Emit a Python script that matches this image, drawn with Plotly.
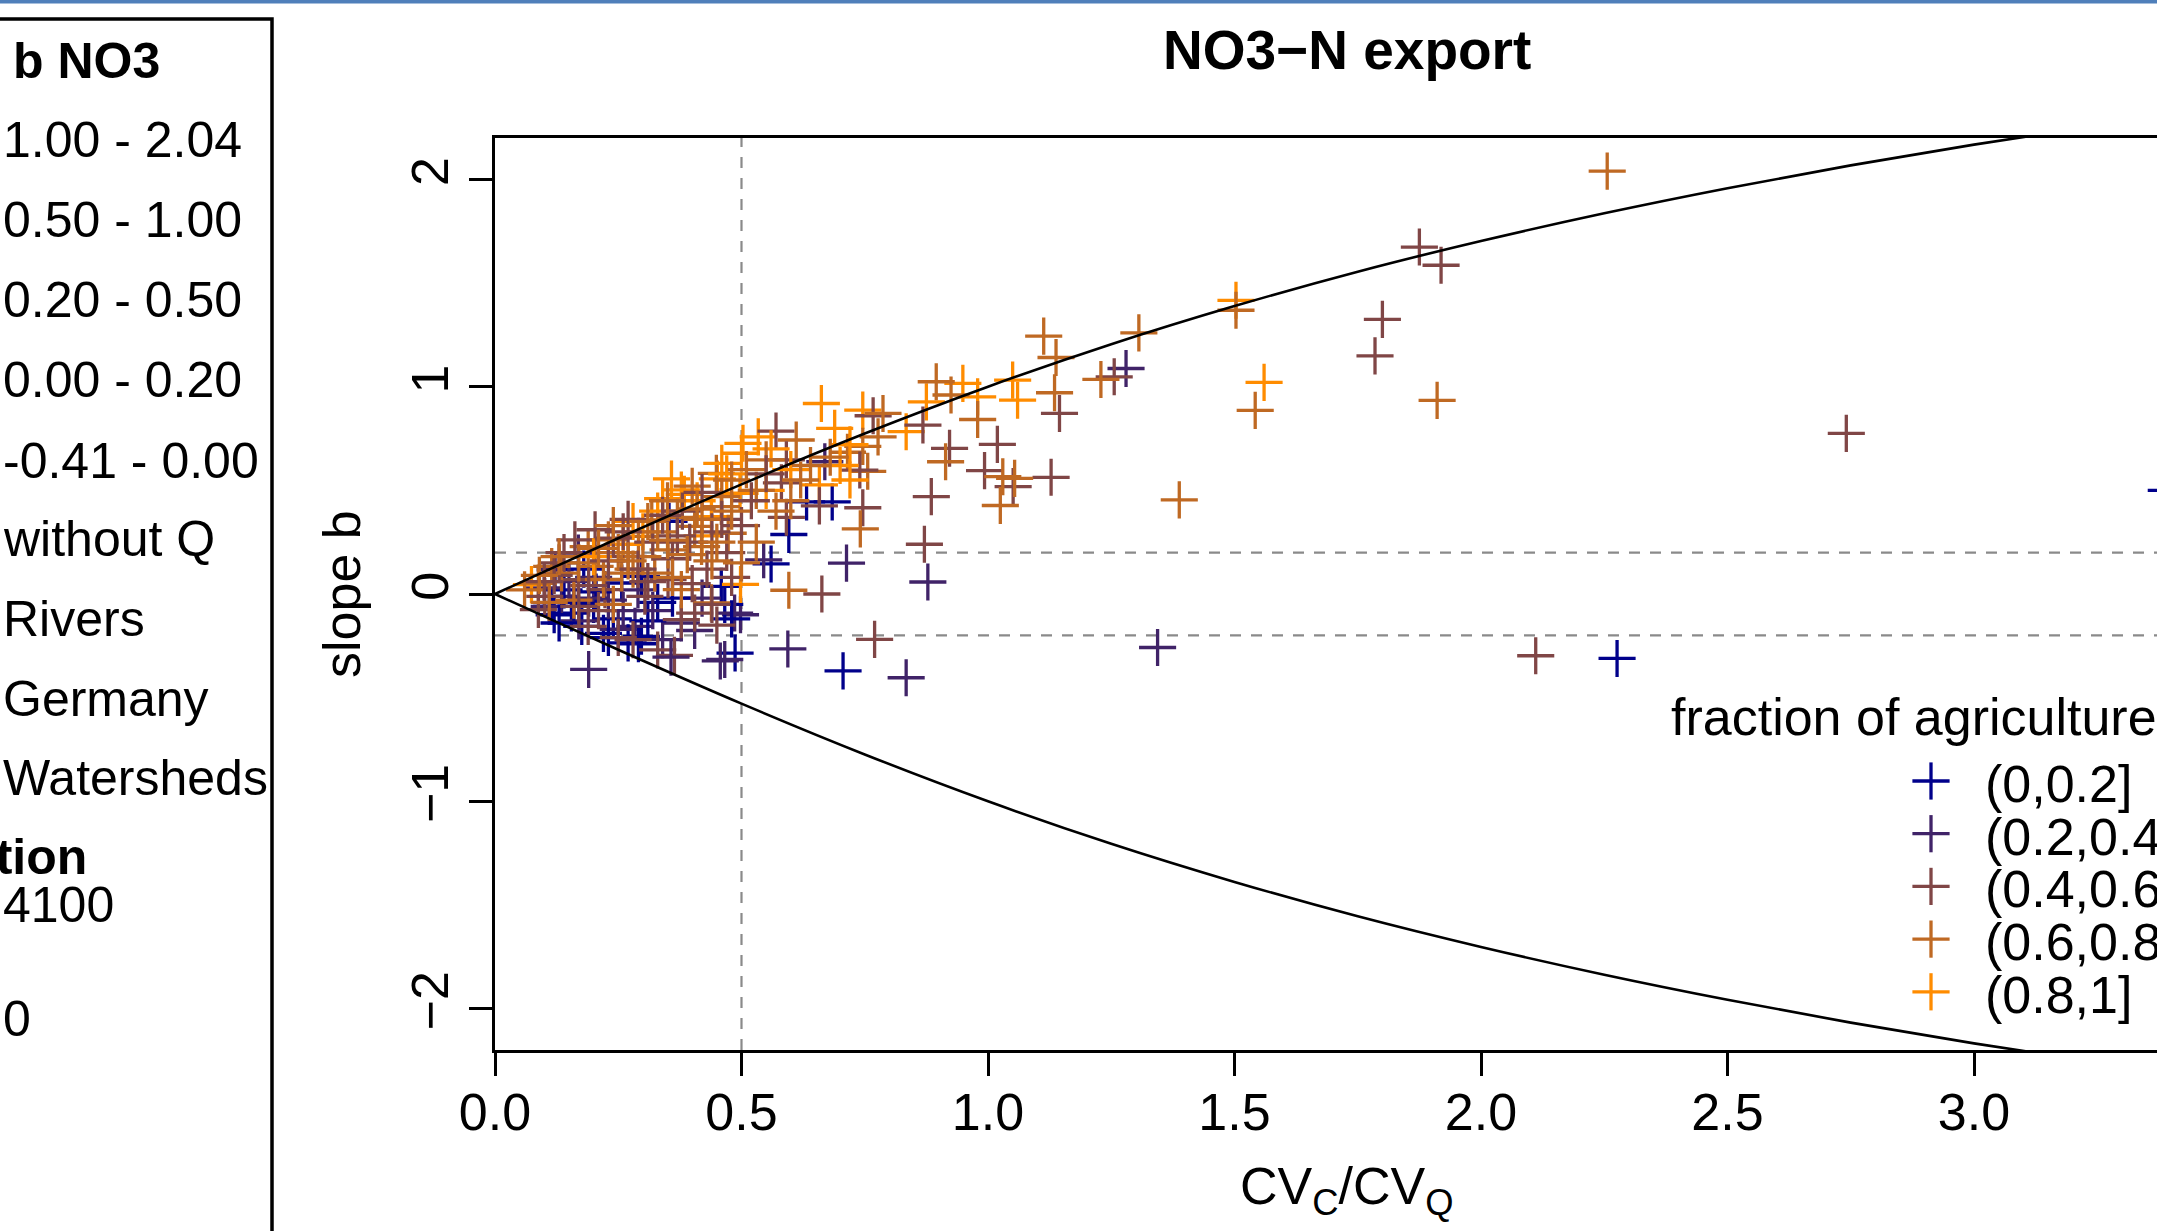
import plotly.graph_objects as go

# ---------------- data ----------------
CATEGORIES = ["(0,0.2]", "(0.2,0.4]", "(0.4,0.6]", "(0.6,0.8]", "(0.8,1]"]
COLORS = ["#00008B", "#402368", "#804646", "#BF6923", "#FF8C00"]

A_X = [0.353, 0.596, 0.632, 0.684, 0.560, 0.706, 2.276, 3.390, 0.487, 0.291,
       0.297, 0.466, 0.155, 0.176, 0.257, 0.297, 0.459, 0.115, 0.200, 0.240,
       0.140, 0.330, 0.270, 0.180, 0.120, 0.220, 0.310, 0.480, 0.205, 0.160,
       0.130, 0.230, 0.360]
A_Y = [0.351, 0.287, 0.444, 0.444, 0.145, -0.371, -0.311, 0.500, -0.285, -0.240,
       -0.204, -0.050, -0.092, -0.156, 0.053, 0.085, 0.037, -0.060, -0.050, -0.120,
       0.020, -0.040, -0.236, 0.120, -0.100, -0.190, -0.130, -0.120, 0.010, -0.040,
       -0.140, -0.210, -0.020]

B_X = [1.280, 1.344, 0.834, 0.594, 0.190, 0.878, 0.669, 0.713, 0.498, 0.457,
       0.405, 0.466, 0.378, 0.486, 0.169, 0.122, 0.135, 0.284, 0.545, 0.230,
       0.100, 0.260, 0.340, 0.170, 0.420, 0.200, 0.290, 0.150, 0.357, 0.110,
       0.250, 0.320, 0.190]
B_Y = [1.088, -0.258, -0.404, -0.265, -0.364, 0.058, 0.638, 0.149, -0.100, -0.323,
       -0.176, -0.316, -0.140, -0.092, 0.197, 0.117, -0.011, -0.156, 0.165, -0.030,
       0.030, -0.080, -0.220, -0.130, -0.020, 0.080, 0.020, 0.060, -0.305, -0.060,
       -0.170, -0.080, -0.020]

C_X = [2.741, 2.111, 1.875, 1.919, 1.800, 1.785, 1.145, 1.256, 1.128, 1.051,
       1.019, 0.993, 0.922, 0.868, 0.885, 0.871, 0.770, 0.767, 0.570, 0.591,
       0.581, 0.591, 0.658, 0.746, 0.663, 0.740, 0.364, 0.330, 0.169, 0.223,
       0.270, 0.203, 0.162, 0.304, 0.351, 0.378, 0.405, 0.101, 0.088, 0.189,
       0.250, 0.130, 0.320, 0.380, 0.440, 0.430, 0.470, 0.500, 0.270, 0.360,
       0.420, 0.550, 0.520, 0.210, 0.450, 0.280, 0.120, 0.240, 0.395, 0.290,
       0.480, 0.140, 0.190, 0.260, 0.310, 0.340, 0.400, 0.460, 0.230, 0.100,
       0.370, 0.440, 0.170]
C_Y = [0.775, -0.298, 1.674, 1.586, 1.325, 1.149, 0.871, 1.048, 0.563, 0.518,
       0.722, 0.595, 0.703, 0.815, 0.470, 0.240, -0.219, 0.860, 0.786, 0.647,
       0.536, 0.370, 0.425, 0.416, 0.000, 0.598, -0.296, -0.270, 0.069, 0.021,
       0.181, 0.310, 0.261, -0.011, 0.069, -0.124, -0.092, -0.011, -0.075, -0.156,
       -0.210, 0.150, 0.250, 0.400, 0.300, 0.120, 0.200, 0.330, 0.360, 0.170,
       0.490, 0.580, 0.450, -0.080, -0.150, -0.220, 0.090, 0.270, 0.250, 0.120,
       0.080, 0.200, 0.040, 0.300, 0.060, 0.380, 0.050, 0.360, 0.160, 0.060,
       0.280, -0.050, -0.060]

D_X = [2.256, 1.503, 1.542, 1.911, 1.388, 1.306, 1.113, 1.138, 1.135, 1.229,
       0.979, 0.895, 0.925, 0.914, 1.030, 1.054, 1.025, 0.787, 0.611, 0.777,
       0.746, 0.756, 0.715, 0.741, 0.596, 0.550, 0.449, 0.318, 0.291, 0.230,
       0.189, 0.257, 0.203, 0.135, 0.088, 0.115, 0.351, 0.405, 0.459, 0.473,
       0.419, 0.324, 0.378, 0.439, 0.460, 0.400, 0.480, 0.510, 0.530, 0.570,
       0.620, 0.640, 0.250, 0.300, 0.170, 0.060, 0.110, 0.220, 0.280, 0.330,
       0.370, 0.410, 0.160, 0.240, 0.530, 0.600, 0.680, 0.350, 0.440, 0.500,
       0.130, 0.210, 0.270, 0.350, 0.390, 0.450, 0.310, 0.420, 0.480, 0.240,
       0.090, 0.360]
D_Y = [2.040, 1.369, 0.886, 0.934, 0.454, 1.260, 1.244, 1.141, 0.971, 1.035,
       0.842, 1.024, 0.960, 0.638, 0.566, 0.558, 0.427, 0.871, 0.743, 0.758,
       0.712, 0.592, 0.684, 0.314, 0.018, 0.647, 0.582, 0.358, 0.278, 0.261,
       0.229, 0.101, 0.133, 0.101, 0.053, 0.133, 0.213, 0.326, 0.422, 0.293,
       0.229, 0.101, 0.021, -0.043, 0.470, 0.520, 0.550, 0.600, 0.500, 0.400,
       0.550, 0.620, 0.200, 0.180, 0.150, 0.020, -0.040, 0.070, 0.120, 0.300,
       0.370, 0.410, -0.030, -0.050, 0.250, 0.450, 0.660, 0.450, 0.160, 0.150,
       0.180, 0.220, 0.160, 0.260, 0.190, 0.250, 0.350, 0.360, 0.400, 0.330,
       0.090, 0.080]

E_X = [1.503, 1.560, 1.050, 1.060, 0.949, 0.979, 0.875, 0.834, 0.662, 0.503,
       0.689, 0.746, 0.658, 0.534, 0.451, 0.358, 0.384, 0.498, 0.500, 0.378,
       0.497, 0.074, 0.439, 0.600, 0.560, 0.720, 0.460, 0.410, 0.300, 0.260,
       0.550, 0.700, 0.200, 0.330, 0.420, 0.720, 0.340, 0.470, 0.280]
E_Y = [1.417, 1.021, 1.032, 0.935, 1.016, 0.951, 0.927, 0.783, 0.919, 0.727,
       0.799, 0.887, 0.526, 0.758, 0.555, 0.555, 0.481, 0.046, 0.679, 0.502,
       0.486, 0.045, 0.373, 0.600, 0.700, 0.720, 0.630, 0.450, 0.300, 0.240,
       0.500, 0.620, 0.180, 0.400, 0.280, 0.550, 0.460, 0.580, 0.350]

# theoretical envelope (upper bound of slope b)
CURVE_X = [0.0, 0.1, 0.25, 0.5, 0.75, 1.0, 1.25, 1.5, 1.75, 2.0, 2.25, 2.5, 2.75, 3.0, 3.25, 3.5]
CURVE_B = [0.0, 0.108, 0.269, 0.529, 0.774, 1.0, 1.205, 1.389, 1.555, 1.703, 1.837, 1.958, 2.068, 2.168, 2.259, 2.343]

X_TICKS = [0.0, 0.5, 1.0, 1.5, 2.0, 2.5, 3.0]
X_TICK_TEXT = ["0.0", "0.5", "1.0", "1.5", "2.0", "2.5", "3.0"]
Y_TICKS = [-2, -1, 0, 1, 2]
H_THRESH = [0.2, -0.2]
V_THRESH = 0.5

MAP_LEGEND = ["1.00 - 2.04", "0.50 - 1.00", "0.20 - 0.50", "0.00 - 0.20", "-0.41 - 0.00",
              "without Q", "Rivers", "Germany", "Watersheds"]

# ---------------- layout geometry (pixels) ----------------
VIEW_W, VIEW_H = 2157, 1231          # visible window (the chart runs past its right edge)
FIG_W, FIG_H = 2199, 1231
L, T, B = 495, 138, 1050
R = FIG_W
W, H = R - L, B - T
PX_PER_X = 493.0
FONT = "Liberation Sans, Arial, Helvetica, sans-serif"


def px(x):
    return (x - L) / W


def py(y):
    return (B - y) / H


fig = go.Figure()

# interleave the groups (as points of an unsorted data table would be drawn)
groups = [(A_X, A_Y, 0), (B_X, B_Y, 1), (C_X, C_Y, 2), (D_X, D_Y, 3), (E_X, E_Y, 4)]
all_x, all_y, all_c, all_n = [], [], [], []
longest = max(len(g[0]) for g in groups)
for i in range(longest):
    for xs, ys, ci in groups:
        if i < len(xs):
            all_x.append(xs[i])
            all_y.append(ys[i])
            all_c.append(COLORS[ci])
            all_n.append(CATEGORIES[ci])

fig.add_trace(go.Scatter(
    x=all_x, y=all_y, mode="markers", cliponaxis=True, customdata=all_n,
    marker=dict(symbol="cross-thin", size=26.5, color=all_c,
                line=dict(color=all_c, width=3.3)),
    hovertemplate="%{x}, %{y}<br>%{customdata}<extra></extra>"))

fig.add_trace(go.Scatter(x=CURVE_X, y=CURVE_B, mode="lines",
                         line=dict(color="black", width=2.6, shape="spline"), hoverinfo="skip"))
fig.add_trace(go.Scatter(x=CURVE_X, y=[-v for v in CURVE_B], mode="lines",
                         line=dict(color="black", width=2.6, shape="spline"), hoverinfo="skip"))

shapes = []
# threshold dashed lines
for h in H_THRESH:
    shapes.append(dict(type="line", xref="paper", yref="y", x0=0, x1=1, y0=h, y1=h,
                       line=dict(color="#8A8A8A", width=2.2, dash="11px,10px"), layer="below"))
shapes.append(dict(type="line", xref="x", yref="paper", x0=V_THRESH, x1=V_THRESH, y0=0, y1=1,
                   line=dict(color="#8A8A8A", width=2.2, dash="11px,10px"), layer="below"))
# top blue bar of the page
shapes.append(dict(type="rect", xref="paper", yref="paper", x0=px(0), x1=px(FIG_W),
                   y0=py(3.5), y1=py(0), line=dict(width=0), fillcolor="#4F7FBA"))
# left panel box
shapes.append(dict(type="rect", xref="paper", yref="paper", x0=px(-10), x1=px(272),
                   y0=py(FIG_H + 20), y1=py(19), line=dict(color="black", width=3.5)))

annotations = []
# title
annotations.append(dict(text="<b>NO3\u2212N export</b>", xref="paper", yref="paper",
                        x=0.5, y=py(50), xanchor="center", yanchor="middle",
                        showarrow=False, font=dict(family=FONT, size=55, color="black")))
# axis titles
annotations.append(dict(text="CV<sub>C</sub>/CV<sub>Q</sub>", xref="paper", yref="paper",
                        x=0.5, y=py(1190), xanchor="center", yanchor="middle",
                        showarrow=False, font=dict(family=FONT, size=52, color="black")))
annotations.append(dict(text="slope b", xref="paper", yref="paper", textangle=-90,
                        x=px(342), y=py(594), xanchor="center", yanchor="middle",
                        showarrow=False, font=dict(family=FONT, size=52, color="black")))
# legend of the scatter
annotations.append(dict(text="fraction of agriculture", xref="paper", yref="paper",
                        x=px(1669), y=py(717), xanchor="left", yanchor="middle",
                        showarrow=False, font=dict(family=FONT, size=52, color="black")))
LEG_Y0, LEG_DY, LEG_MX, LEG_TX, ARM = 781, 52.7, 1931, 1983, 18.6
for i, lab in enumerate(CATEGORIES):
    yy = LEG_Y0 + i * LEG_DY
    annotations.append(dict(text=lab, xref="paper", yref="paper", x=px(LEG_TX), y=py(yy + 3),
                            xanchor="left", yanchor="middle", showarrow=False,
                            font=dict(family=FONT, size=52, color="black")))
    shapes.append(dict(type="line", xref="paper", yref="paper", x0=px(LEG_MX - ARM), x1=px(LEG_MX + ARM),
                       y0=py(yy), y1=py(yy), line=dict(color=COLORS[i], width=3.3)))
    shapes.append(dict(type="line", xref="paper", yref="paper", x0=px(LEG_MX), x1=px(LEG_MX),
                       y0=py(yy - ARM), y1=py(yy + ARM), line=dict(color=COLORS[i], width=3.3)))

# left map-legend panel (cropped)
annotations.append(dict(text="<b>b NO3</b>", xref="paper", yref="paper", x=px(11), y=py(61),
                        xanchor="left", yanchor="middle", showarrow=False,
                        font=dict(family=FONT, size=50, color="black")))
MAP_Y = [140, 220, 300, 380, 461, 539, 619, 699, 778]
for lab, yy in zip(MAP_LEGEND, MAP_Y):
    annotations.append(dict(text=lab, xref="paper", yref="paper", x=px(1), y=py(yy),
                            xanchor="left", yanchor="middle", showarrow=False,
                            font=dict(family=FONT, size=50, color="black")))
annotations.append(dict(text="<b>Elevation</b>", xref="paper", yref="paper", x=px(89), y=py(857),
                        xanchor="right", yanchor="middle", showarrow=False,
                        font=dict(family=FONT, size=50, color="black")))
annotations.append(dict(text="4100", xref="paper", yref="paper", x=px(1), y=py(905),
                        xanchor="left", yanchor="middle", showarrow=False,
                        font=dict(family=FONT, size=50, color="black")))
annotations.append(dict(text="0", xref="paper", yref="paper", x=px(1), y=py(1019),
                        xanchor="left", yanchor="middle", showarrow=False,
                        font=dict(family=FONT, size=50, color="black")))

fig.update_layout(
    width=FIG_W, height=FIG_H, autosize=False,
    margin=dict(l=L, r=0, t=T, b=FIG_H - B, pad=0),
    paper_bgcolor="white", plot_bgcolor="white", showlegend=False,
    shapes=shapes, annotations=annotations,
    xaxis=dict(range=[0, W / PX_PER_X], showline=True, linecolor="black", linewidth=2.6, mirror=True,
               ticks="outside", ticklen=23, tickwidth=2.6, tickcolor="black",
               tickvals=X_TICKS, ticktext=X_TICK_TEXT, showgrid=False, zeroline=False,
               ticklabelstandoff=-8,
               tickfont=dict(family=FONT, size=52, color="black")),
    yaxis=dict(range=[-2.2, 2.2], showline=True, linecolor="black", linewidth=2.6, mirror=False,
               ticks="outside", ticklen=23, tickwidth=2.6, tickcolor="black", tickangle=-90,
               tickvals=Y_TICKS, showgrid=False, zeroline=False,
               tickfont=dict(family=FONT, size=52, color="black")),
)

post = ("document.body.style.margin='0';"
        "document.body.style.overflow='hidden';"
        "document.documentElement.style.overflow='hidden';"
        "var gd=document.getElementById('{plot_id}');"
        "gd.parentElement.style.width='%dpx';"
        "gd.parentElement.style.height='%dpx';"
        "gd.parentElement.style.overflow='hidden';" % (VIEW_W, VIEW_H))

fig.write_html("out.html", config={"displayModeBar": False}, post_script=post)
